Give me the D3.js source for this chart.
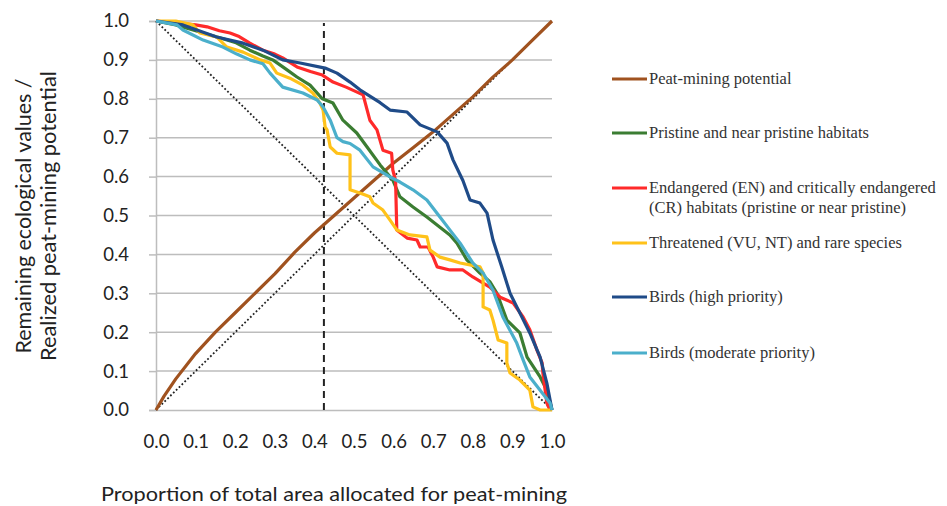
<!DOCTYPE html>
<html><head><meta charset="utf-8">
<script src="https://cdn.jsdelivr.net/npm/d3@7/dist/d3.min.js"></script>
<style>html,body{margin:0;padding:0;background:#fff;}svg{display:block;}</style>
</head><body>
<svg id="chart" width="947" height="506"></svg>
<script>
// ---- data ----
const xTicks = [0,0.1,0.2,0.3,0.4,0.5,0.6,0.7,0.8,0.9,1.0];
const yTicks = [0,0.1,0.2,0.3,0.4,0.5,0.6,0.7,0.8,0.9,1.0];
const cutoffX = 0.424;

const peatX = [0,0.02,0.05,0.1,0.15,0.2,0.25,0.3,0.35,0.4,0.45,0.5,0.55,0.6,0.65,0.7,0.75,0.8,0.85,0.9,0.95,1];
const peatY = [0,0.035,0.08,0.145,0.2,0.25,0.3,0.35,0.405,0.455,0.5,0.545,0.59,0.635,0.675,0.715,0.76,0.805,0.855,0.9,0.95,1];

const greenX = [0,0.05,0.1,0.15,0.2,0.237,0.27,0.295,0.33,0.356,0.389,0.42,0.447,0.472,0.507,0.533,0.566,0.598,0.616,0.649,0.684,0.717,0.742,0.76,0.785,0.818,0.843,0.861,0.886,0.919,0.937,0.97,0.987,1];
const greenY = [1,0.99,0.975,0.96,0.945,0.925,0.91,0.9,0.875,0.856,0.835,0.8,0.789,0.745,0.712,0.676,0.63,0.591,0.548,0.522,0.496,0.47,0.45,0.429,0.386,0.352,0.33,0.30,0.231,0.198,0.136,0.085,0.051,0];

const redX = [0,0.05,0.1,0.129,0.16,0.187,0.21,0.237,0.27,0.3,0.32,0.356,0.39,0.42,0.447,0.48,0.523,0.54,0.558,0.573,0.595,0.598,0.605,0.608,0.634,0.659,0.667,0.687,0.70,0.71,0.742,0.775,0.80,0.843,0.869,0.902,0.927,0.944,0.962,0.975,0.977,0.987,0.995];
const redY = [1,0.995,0.99,0.985,0.975,0.969,0.96,0.943,0.925,0.915,0.905,0.882,0.87,0.861,0.843,0.83,0.81,0.745,0.72,0.668,0.66,0.617,0.59,0.463,0.442,0.437,0.419,0.419,0.393,0.368,0.36,0.36,0.342,0.316,0.29,0.275,0.239,0.206,0.154,0.121,0.095,0.018,0];

const yellowX = [0,0.05,0.093,0.111,0.153,0.179,0.22,0.263,0.288,0.305,0.338,0.371,0.396,0.414,0.422,0.427,0.432,0.44,0.457,0.49,0.49,0.515,0.54,0.548,0.573,0.591,0.608,0.641,0.684,0.692,0.717,0.742,0.768,0.818,0.826,0.826,0.843,0.851,0.864,0.886,0.886,0.894,0.919,0.944,0.952,0.97,1];
const yellowY = [1,1,0.99,0.969,0.959,0.933,0.92,0.90,0.892,0.866,0.853,0.835,0.815,0.789,0.771,0.728,0.72,0.676,0.66,0.656,0.566,0.558,0.548,0.532,0.514,0.488,0.463,0.45,0.445,0.411,0.393,0.386,0.378,0.368,0.352,0.265,0.257,0.231,0.18,0.172,0.121,0.095,0.077,0.051,0.008,0,0];

const blueX = [0,0.068,0.153,0.22,0.27,0.32,0.364,0.427,0.457,0.49,0.515,0.566,0.591,0.634,0.667,0.71,0.735,0.75,0.775,0.793,0.818,0.836,0.851,0.873,0.894,0.919,0.944,0.97,0.987,1];
const blueY = [1,0.99,0.959,0.943,0.925,0.90,0.892,0.879,0.866,0.843,0.823,0.79,0.771,0.766,0.733,0.715,0.686,0.643,0.59,0.54,0.532,0.506,0.437,0.368,0.30,0.249,0.198,0.136,0.069,0];

const cyanX = [0,0.053,0.068,0.119,0.169,0.204,0.237,0.27,0.288,0.32,0.371,0.407,0.422,0.44,0.457,0.472,0.49,0.515,0.548,0.591,0.616,0.649,0.684,0.717,0.742,0.768,0.80,0.826,0.851,0.876,0.911,0.927,0.944,0.97,0.995,1];
const cyanY = [1,0.99,0.977,0.951,0.933,0.915,0.90,0.89,0.866,0.83,0.815,0.797,0.779,0.745,0.70,0.69,0.685,0.668,0.625,0.599,0.586,0.566,0.54,0.496,0.463,0.429,0.378,0.352,0.308,0.239,0.172,0.129,0.085,0.051,0.018,0];

const seriesNames = ["Peat-mining potential","Pristine and near pristine habitats",["Endangered (EN) and critically endangered","(CR) habitats (pristine or near pristine)"],"Threatened (VU, NT) and rare species","Birds (high priority)","Birds (moderate priority)"];
const seriesColors = ["#a0521f","#3b7d32","#ff2a2a","#ffc21a","#1f4b88","#4bafcb"];
const seriesX = [peatX, greenX, redX, yellowX, blueX, cyanX];
const seriesY = [peatY, greenY, redY, yellowY, blueY, cyanY];

// ---- drawing ----
const svg = d3.select("#chart");
const L = 156, R = 552, T = 21, B = 410;
const x = d3.scaleLinear().domain([0,1]).range([L,R]);
const y = d3.scaleLinear().domain([0,1]).range([B,T]);

// gridlines
svg.append("g").selectAll("line").data(yTicks.slice(1)).join("line")
  .attr("x1", L).attr("x2", R).attr("y1", d=>y(d)).attr("y2", d=>y(d))
  .attr("stroke", "#bdbdbd").attr("stroke-width", 1.5);

// y axis
const yAxis = svg.append("g").attr("transform", `translate(${L},0)`)
  .call(d3.axisLeft(y).tickValues(yTicks).tickFormat(d3.format(".1f")).tickSize(7).tickPadding(20));
yAxis.select(".domain").attr("stroke","#bdbdbd").attr("stroke-width",1.5);
yAxis.selectAll(".tick line").attr("stroke","#bdbdbd").attr("stroke-width",1.5);
yAxis.selectAll("text").attr("font-family","Lato, sans-serif").attr("font-size",18.5).attr("fill","#222");

// x axis
const xAxis = svg.append("g").attr("transform", `translate(0,${B})`)
  .call(d3.axisBottom(x).tickValues(xTicks).tickFormat(d3.format(".1f")).tickSize(0).tickPadding(25));
xAxis.select(".domain").attr("stroke","#bdbdbd").attr("stroke-width",1.5);
xAxis.selectAll("text").attr("font-family","Lato, sans-serif").attr("font-size",18.5).attr("fill","#222");

// reference diagonals
svg.append("line").attr("x1",x(0)).attr("y1",y(0)).attr("x2",x(1)).attr("y2",y(1))
  .attr("stroke","#222").attr("stroke-width",1.8).attr("stroke-dasharray","1.8,2.2");
svg.append("line").attr("x1",x(0)).attr("y1",y(1)).attr("x2",x(1)).attr("y2",y(0))
  .attr("stroke","#222").attr("stroke-width",1.8).attr("stroke-dasharray","1.8,2.2");

// cutoff
svg.append("line").attr("x1",x(cutoffX)).attr("x2",x(cutoffX)).attr("y1",y(0)).attr("y2",y(0.995))
  .attr("stroke","#222").attr("stroke-width",2).attr("stroke-dasharray","7,5");

// series
const line = d3.line().x(d=>x(d[0])).y(d=>y(d[1]));
seriesX.forEach((xs,i)=>{
  const pts = xs.map((v,j)=>[v, seriesY[i][j]]);
  svg.append("path").datum(pts).attr("d", line)
    .attr("fill","none").attr("stroke", seriesColors[i]).attr("stroke-width",3.2)
    .attr("stroke-linejoin","round");
});

// legend
const legY = [79,133,188,243,297,353];
const leg = svg.append("g");
seriesNames.forEach((name,i)=>{
  leg.append("line").attr("x1",612).attr("x2",647).attr("y1",legY[i]).attr("y2",legY[i])
    .attr("stroke",seriesColors[i]).attr("stroke-width",3.2);
  const t = leg.append("text").attr("x",649).attr("y",legY[i]+5)
    .attr("font-family","'Liberation Serif', 'Times New Roman', serif").attr("font-size",16.5).attr("fill","#333");
  const lines = Array.isArray(name) ? name : [name];
  lines.forEach((s,k)=> t.append("tspan").attr("x",649).attr("dy", k===0?0:20).text(s));
});

// axis titles
svg.append("text").attr("x",334).attr("y",501).attr("text-anchor","middle")
  .attr("font-family","Lato, sans-serif").attr("font-size",20).attr("fill","#222")
  .attr("textLength",466).attr("lengthAdjust","spacingAndGlyphs")
  .text("Proportion of total area allocated for peat-mining");
const yt = svg.append("text").attr("transform","translate(0,216) rotate(-90)").attr("text-anchor","middle")
  .attr("font-family","Lato, sans-serif").attr("font-size",20.5).attr("fill","#222");
yt.append("tspan").attr("x",0).attr("y",31).attr("textLength",275).attr("lengthAdjust","spacingAndGlyphs").text("Remaining ecological values /");
yt.append("tspan").attr("x",0).attr("y",56).attr("textLength",290).attr("lengthAdjust","spacingAndGlyphs").text("Realized peat-mining potential");
</script>
</body></html>
